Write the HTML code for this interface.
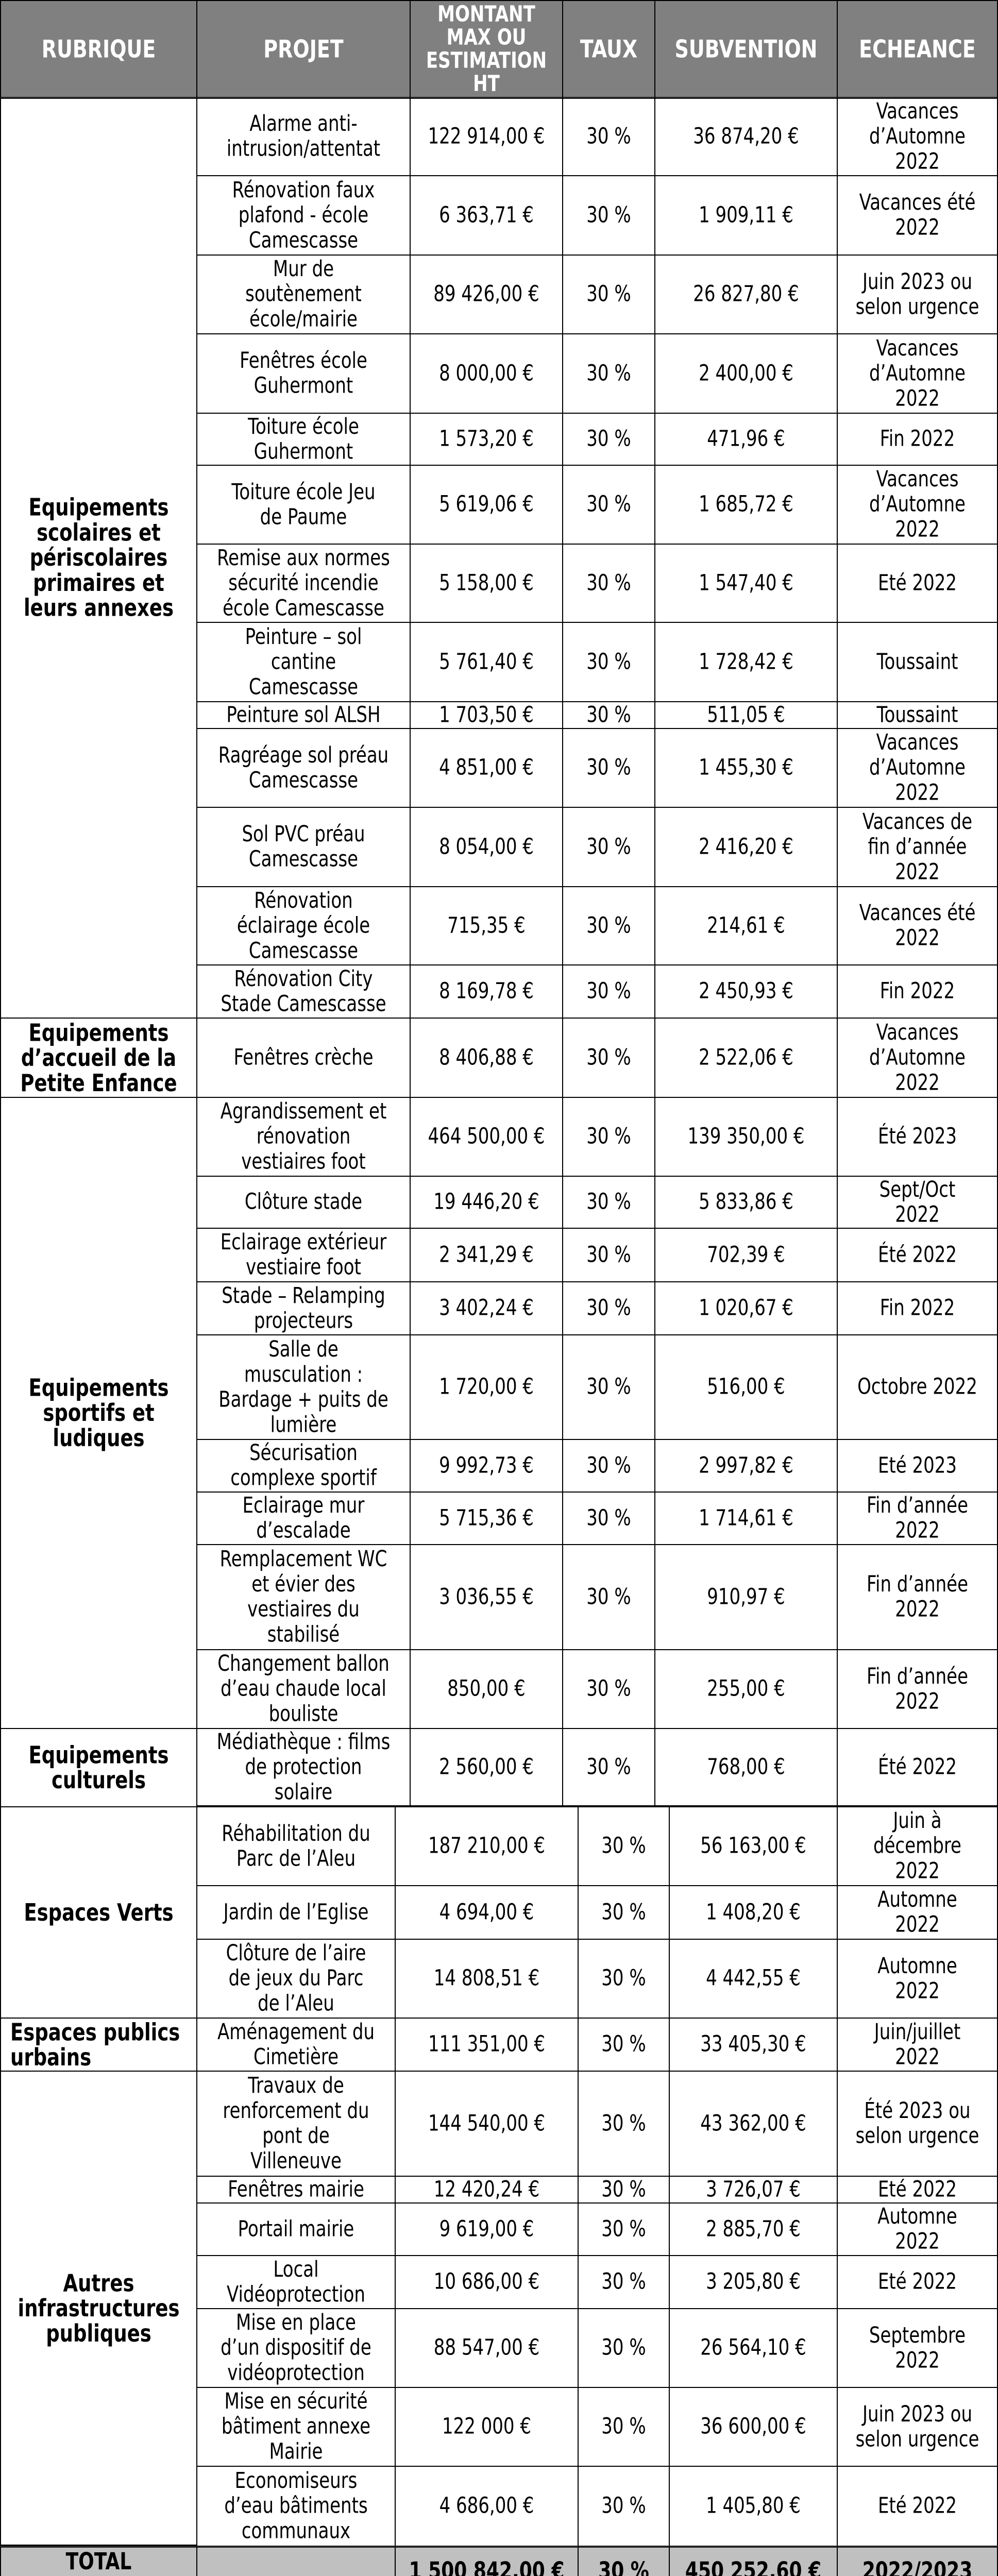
<!DOCTYPE html>
<html><head><meta charset="utf-8"><style>
body{margin:0;width:1937px;height:5040px;background:#fff;position:relative;overflow:hidden}
.c{position:absolute;box-sizing:border-box;border-right:2px solid #000;border-bottom:2px solid #000;display:flex;align-items:center;justify-content:center;text-align:center;white-space:nowrap;color:#000;overflow:hidden}
.c>span{display:block;transform:scaleY(1.25);font-family:"DejaVu Sans","Liberation Sans",sans-serif;font-size:34px;line-height:39px}
.b>span{font-weight:bold;font-size:37px}
.h{background:#808080;border-bottom:4px solid #222}
.h>span{color:#fff;font-weight:bold;font-size:38px;line-height:36px}
.t{background:#c0c0c0;border-bottom:4px solid #222}
.t>span{font-weight:bold;font-size:36px}
.l{justify-content:flex-start;text-align:left;padding-left:18px}
.ll{border-left:2px solid #000}
</style></head><body>

<div class="c h ll" style="left:0;top:0;width:383px;height:192px;border-top:2px solid #000"><span>RUBRIQUE</span></div>
<div class="c h" style="left:383px;top:0;width:414px;height:192px;border-top:2px solid #000"><span>PROJET</span></div>
<div class="c h" style="left:797px;top:0;width:296px;height:192px;border-top:2px solid #000"><span style="font-size:34px">MONTANT<br>MAX OU<br>ESTIMATION<br>HT</span></div>
<div class="c h" style="left:1093px;top:0;width:179px;height:192px;border-top:2px solid #000"><span>TAUX</span></div>
<div class="c h" style="left:1272px;top:0;width:354px;height:192px;border-top:2px solid #000"><span>SUBVENTION</span></div>
<div class="c h" style="left:1626px;top:0;width:311px;height:192px;border-top:2px solid #000"><span>ECHEANCE</span></div>

<div class="c b ll" style="left:0;top:190px;width:383px;height:1787px"><span>Equipements<br>scolaires et<br>périscolaires<br>primaires et<br>leurs annexes</span></div>
<div class="c b ll" style="left:0;top:1977px;width:383px;height:154px"><span>Equipements<br>d’accueil de la<br>Petite Enfance</span></div>
<div class="c b ll" style="left:0;top:2131px;width:383px;height:1225px"><span>Equipements<br>sportifs et<br>ludiques</span></div>
<div class="c b ll" style="left:0;top:3356px;width:383px;height:152px"><span>Equipements<br>culturels</span></div>
<div class="c b ll" style="left:0;top:3508px;width:383px;height:410px"><span>Espaces Verts</span></div>
<div class="c b ll l" style="left:0;top:3918px;width:383px;height:103px"><span>Espaces publics<br>urbains</span></div>
<div class="c b ll" style="left:0;top:4021px;width:383px;height:920px"><span>Autres<br>infrastructures<br>publiques</span></div>

<div class="c" style="left:383px;top:190px;width:414px;height:152px"><span>Alarme anti-<br>intrusion/attentat</span></div><div class="c" style="left:797px;top:190px;width:296px;height:152px"><span>122 914,00 €</span></div><div class="c" style="left:1093px;top:190px;width:179px;height:152px"><span>30 %</span></div><div class="c" style="left:1272px;top:190px;width:354px;height:152px"><span>36 874,20 €</span></div><div class="c" style="left:1626px;top:190px;width:311px;height:152px"><span>Vacances<br>d’Automne<br>2022</span></div>
<div class="c" style="left:383px;top:342px;width:414px;height:154px"><span>Rénovation faux<br>plafond - école<br>Camescasse</span></div><div class="c" style="left:797px;top:342px;width:296px;height:154px"><span>6 363,71 €</span></div><div class="c" style="left:1093px;top:342px;width:179px;height:154px"><span>30 %</span></div><div class="c" style="left:1272px;top:342px;width:354px;height:154px"><span>1 909,11 €</span></div><div class="c" style="left:1626px;top:342px;width:311px;height:154px"><span>Vacances été<br>2022</span></div>
<div class="c" style="left:383px;top:496px;width:414px;height:153px"><span>Mur de<br>soutènement<br>école/mairie</span></div><div class="c" style="left:797px;top:496px;width:296px;height:153px"><span>89 426,00 €</span></div><div class="c" style="left:1093px;top:496px;width:179px;height:153px"><span>30 %</span></div><div class="c" style="left:1272px;top:496px;width:354px;height:153px"><span>26 827,80 €</span></div><div class="c" style="left:1626px;top:496px;width:311px;height:153px"><span>Juin 2023 ou<br>selon urgence</span></div>
<div class="c" style="left:383px;top:649px;width:414px;height:154px"><span>Fenêtres école<br>Guhermont</span></div><div class="c" style="left:797px;top:649px;width:296px;height:154px"><span>8 000,00 €</span></div><div class="c" style="left:1093px;top:649px;width:179px;height:154px"><span>30 %</span></div><div class="c" style="left:1272px;top:649px;width:354px;height:154px"><span>2 400,00 €</span></div><div class="c" style="left:1626px;top:649px;width:311px;height:154px"><span>Vacances<br>d’Automne<br>2022</span></div>
<div class="c" style="left:383px;top:803px;width:414px;height:101px"><span>Toiture école<br>Guhermont</span></div><div class="c" style="left:797px;top:803px;width:296px;height:101px"><span>1 573,20 €</span></div><div class="c" style="left:1093px;top:803px;width:179px;height:101px"><span>30 %</span></div><div class="c" style="left:1272px;top:803px;width:354px;height:101px"><span>471,96 €</span></div><div class="c" style="left:1626px;top:803px;width:311px;height:101px"><span>Fin 2022</span></div>
<div class="c" style="left:383px;top:904px;width:414px;height:153px"><span>Toiture école Jeu<br>de Paume</span></div><div class="c" style="left:797px;top:904px;width:296px;height:153px"><span>5 619,06 €</span></div><div class="c" style="left:1093px;top:904px;width:179px;height:153px"><span>30 %</span></div><div class="c" style="left:1272px;top:904px;width:354px;height:153px"><span>1 685,72 €</span></div><div class="c" style="left:1626px;top:904px;width:311px;height:153px"><span>Vacances<br>d’Automne<br>2022</span></div>
<div class="c" style="left:383px;top:1057px;width:414px;height:152px"><span>Remise aux normes<br>sécurité incendie<br>école Camescasse</span></div><div class="c" style="left:797px;top:1057px;width:296px;height:152px"><span>5 158,00 €</span></div><div class="c" style="left:1093px;top:1057px;width:179px;height:152px"><span>30 %</span></div><div class="c" style="left:1272px;top:1057px;width:354px;height:152px"><span>1 547,40 €</span></div><div class="c" style="left:1626px;top:1057px;width:311px;height:152px"><span>Eté 2022</span></div>
<div class="c" style="left:383px;top:1209px;width:414px;height:154px"><span>Peinture – sol<br>cantine<br>Camescasse</span></div><div class="c" style="left:797px;top:1209px;width:296px;height:154px"><span>5 761,40 €</span></div><div class="c" style="left:1093px;top:1209px;width:179px;height:154px"><span>30 %</span></div><div class="c" style="left:1272px;top:1209px;width:354px;height:154px"><span>1 728,42 €</span></div><div class="c" style="left:1626px;top:1209px;width:311px;height:154px"><span>Toussaint</span></div>
<div class="c" style="left:383px;top:1363px;width:414px;height:52px"><span>Peinture sol ALSH</span></div><div class="c" style="left:797px;top:1363px;width:296px;height:52px"><span>1 703,50 €</span></div><div class="c" style="left:1093px;top:1363px;width:179px;height:52px"><span>30 %</span></div><div class="c" style="left:1272px;top:1363px;width:354px;height:52px"><span>511,05 €</span></div><div class="c" style="left:1626px;top:1363px;width:311px;height:52px"><span>Toussaint</span></div>
<div class="c" style="left:383px;top:1415px;width:414px;height:153px"><span>Ragréage sol préau<br>Camescasse</span></div><div class="c" style="left:797px;top:1415px;width:296px;height:153px"><span>4 851,00 €</span></div><div class="c" style="left:1093px;top:1415px;width:179px;height:153px"><span>30 %</span></div><div class="c" style="left:1272px;top:1415px;width:354px;height:153px"><span>1 455,30 €</span></div><div class="c" style="left:1626px;top:1415px;width:311px;height:153px"><span>Vacances<br>d’Automne<br>2022</span></div>
<div class="c" style="left:383px;top:1568px;width:414px;height:154px"><span>Sol PVC préau<br>Camescasse</span></div><div class="c" style="left:797px;top:1568px;width:296px;height:154px"><span>8 054,00 €</span></div><div class="c" style="left:1093px;top:1568px;width:179px;height:154px"><span>30 %</span></div><div class="c" style="left:1272px;top:1568px;width:354px;height:154px"><span>2 416,20 €</span></div><div class="c" style="left:1626px;top:1568px;width:311px;height:154px"><span>Vacances de<br>fin d’année<br>2022</span></div>
<div class="c" style="left:383px;top:1722px;width:414px;height:152px"><span>Rénovation<br>éclairage école<br>Camescasse</span></div><div class="c" style="left:797px;top:1722px;width:296px;height:152px"><span>715,35 €</span></div><div class="c" style="left:1093px;top:1722px;width:179px;height:152px"><span>30 %</span></div><div class="c" style="left:1272px;top:1722px;width:354px;height:152px"><span>214,61 €</span></div><div class="c" style="left:1626px;top:1722px;width:311px;height:152px"><span>Vacances été<br>2022</span></div>
<div class="c" style="left:383px;top:1874px;width:414px;height:103px"><span>Rénovation City<br>Stade Camescasse</span></div><div class="c" style="left:797px;top:1874px;width:296px;height:103px"><span>8 169,78 €</span></div><div class="c" style="left:1093px;top:1874px;width:179px;height:103px"><span>30 %</span></div><div class="c" style="left:1272px;top:1874px;width:354px;height:103px"><span>2 450,93 €</span></div><div class="c" style="left:1626px;top:1874px;width:311px;height:103px"><span>Fin 2022</span></div>
<div class="c" style="left:383px;top:1977px;width:414px;height:154px"><span>Fenêtres crèche</span></div><div class="c" style="left:797px;top:1977px;width:296px;height:154px"><span>8 406,88 €</span></div><div class="c" style="left:1093px;top:1977px;width:179px;height:154px"><span>30 %</span></div><div class="c" style="left:1272px;top:1977px;width:354px;height:154px"><span>2 522,06 €</span></div><div class="c" style="left:1626px;top:1977px;width:311px;height:154px"><span>Vacances<br>d’Automne<br>2022</span></div>
<div class="c" style="left:383px;top:2131px;width:414px;height:153px"><span>Agrandissement et<br>rénovation<br>vestiaires foot</span></div><div class="c" style="left:797px;top:2131px;width:296px;height:153px"><span>464 500,00 €</span></div><div class="c" style="left:1093px;top:2131px;width:179px;height:153px"><span>30 %</span></div><div class="c" style="left:1272px;top:2131px;width:354px;height:153px"><span>139 350,00 €</span></div><div class="c" style="left:1626px;top:2131px;width:311px;height:153px"><span>Été 2023</span></div>
<div class="c" style="left:383px;top:2284px;width:414px;height:101px"><span>Clôture stade</span></div><div class="c" style="left:797px;top:2284px;width:296px;height:101px"><span>19 446,20 €</span></div><div class="c" style="left:1093px;top:2284px;width:179px;height:101px"><span>30 %</span></div><div class="c" style="left:1272px;top:2284px;width:354px;height:101px"><span>5 833,86 €</span></div><div class="c" style="left:1626px;top:2284px;width:311px;height:101px"><span>Sept/Oct<br>2022</span></div>
<div class="c" style="left:383px;top:2385px;width:414px;height:104px"><span>Eclairage extérieur<br>vestiaire foot</span></div><div class="c" style="left:797px;top:2385px;width:296px;height:104px"><span>2 341,29 €</span></div><div class="c" style="left:1093px;top:2385px;width:179px;height:104px"><span>30 %</span></div><div class="c" style="left:1272px;top:2385px;width:354px;height:104px"><span>702,39 €</span></div><div class="c" style="left:1626px;top:2385px;width:311px;height:104px"><span>Été 2022</span></div>
<div class="c" style="left:383px;top:2489px;width:414px;height:103px"><span>Stade – Relamping<br>projecteurs</span></div><div class="c" style="left:797px;top:2489px;width:296px;height:103px"><span>3 402,24 €</span></div><div class="c" style="left:1093px;top:2489px;width:179px;height:103px"><span>30 %</span></div><div class="c" style="left:1272px;top:2489px;width:354px;height:103px"><span>1 020,67 €</span></div><div class="c" style="left:1626px;top:2489px;width:311px;height:103px"><span>Fin 2022</span></div>
<div class="c" style="left:383px;top:2592px;width:414px;height:203px"><span>Salle de<br>musculation :<br>Bardage + puits de<br>lumière</span></div><div class="c" style="left:797px;top:2592px;width:296px;height:203px"><span>1 720,00 €</span></div><div class="c" style="left:1093px;top:2592px;width:179px;height:203px"><span>30 %</span></div><div class="c" style="left:1272px;top:2592px;width:354px;height:203px"><span>516,00 €</span></div><div class="c" style="left:1626px;top:2592px;width:311px;height:203px"><span>Octobre 2022</span></div>
<div class="c" style="left:383px;top:2795px;width:414px;height:102px"><span>Sécurisation<br>complexe sportif</span></div><div class="c" style="left:797px;top:2795px;width:296px;height:102px"><span>9 992,73 €</span></div><div class="c" style="left:1093px;top:2795px;width:179px;height:102px"><span>30 %</span></div><div class="c" style="left:1272px;top:2795px;width:354px;height:102px"><span>2 997,82 €</span></div><div class="c" style="left:1626px;top:2795px;width:311px;height:102px"><span>Eté 2023</span></div>
<div class="c" style="left:383px;top:2897px;width:414px;height:102px"><span>Eclairage mur<br>d’escalade</span></div><div class="c" style="left:797px;top:2897px;width:296px;height:102px"><span>5 715,36 €</span></div><div class="c" style="left:1093px;top:2897px;width:179px;height:102px"><span>30 %</span></div><div class="c" style="left:1272px;top:2897px;width:354px;height:102px"><span>1 714,61 €</span></div><div class="c" style="left:1626px;top:2897px;width:311px;height:102px"><span>Fin d’année<br>2022</span></div>
<div class="c" style="left:383px;top:2999px;width:414px;height:204px"><span>Remplacement WC<br>et évier des<br>vestiaires du<br>stabilisé</span></div><div class="c" style="left:797px;top:2999px;width:296px;height:204px"><span>3 036,55 €</span></div><div class="c" style="left:1093px;top:2999px;width:179px;height:204px"><span>30 %</span></div><div class="c" style="left:1272px;top:2999px;width:354px;height:204px"><span>910,97 €</span></div><div class="c" style="left:1626px;top:2999px;width:311px;height:204px"><span>Fin d’année<br>2022</span></div>
<div class="c" style="left:383px;top:3203px;width:414px;height:153px"><span>Changement ballon<br>d’eau chaude local<br>bouliste</span></div><div class="c" style="left:797px;top:3203px;width:296px;height:153px"><span>850,00 €</span></div><div class="c" style="left:1093px;top:3203px;width:179px;height:153px"><span>30 %</span></div><div class="c" style="left:1272px;top:3203px;width:354px;height:153px"><span>255,00 €</span></div><div class="c" style="left:1626px;top:3203px;width:311px;height:153px"><span>Fin d’année<br>2022</span></div>
<div class="c" style="left:383px;top:3356px;width:414px;height:152px;border-bottom:4px solid #000"><span>Médiathèque : films<br>de protection<br>solaire</span></div><div class="c" style="left:797px;top:3356px;width:296px;height:152px;border-bottom:4px solid #000"><span>2 560,00 €</span></div><div class="c" style="left:1093px;top:3356px;width:179px;height:152px;border-bottom:4px solid #000"><span>30 %</span></div><div class="c" style="left:1272px;top:3356px;width:354px;height:152px;border-bottom:4px solid #000"><span>768,00 €</span></div><div class="c" style="left:1626px;top:3356px;width:311px;height:152px;border-bottom:4px solid #000"><span>Été 2022</span></div>

<div class="c" style="left:383px;top:3508px;width:385px;height:153px"><span>Réhabilitation du<br>Parc de l’Aleu</span></div><div class="c" style="left:768px;top:3508px;width:355px;height:153px"><span>187 210,00 €</span></div><div class="c" style="left:1123px;top:3508px;width:177px;height:153px"><span>30 %</span></div><div class="c" style="left:1300px;top:3508px;width:326px;height:153px"><span>56 163,00 €</span></div><div class="c" style="left:1626px;top:3508px;width:311px;height:153px"><span>Juin à<br>décembre<br>2022</span></div>
<div class="c" style="left:383px;top:3661px;width:385px;height:104px"><span>Jardin de l’Eglise</span></div><div class="c" style="left:768px;top:3661px;width:355px;height:104px"><span>4 694,00 €</span></div><div class="c" style="left:1123px;top:3661px;width:177px;height:104px"><span>30 %</span></div><div class="c" style="left:1300px;top:3661px;width:326px;height:104px"><span>1 408,20 €</span></div><div class="c" style="left:1626px;top:3661px;width:311px;height:104px"><span>Automne<br>2022</span></div>
<div class="c" style="left:383px;top:3765px;width:385px;height:153px"><span>Clôture de l’aire<br>de jeux du Parc<br>de l’Aleu</span></div><div class="c" style="left:768px;top:3765px;width:355px;height:153px"><span>14 808,51 €</span></div><div class="c" style="left:1123px;top:3765px;width:177px;height:153px"><span>30 %</span></div><div class="c" style="left:1300px;top:3765px;width:326px;height:153px"><span>4 442,55 €</span></div><div class="c" style="left:1626px;top:3765px;width:311px;height:153px"><span>Automne<br>2022</span></div>
<div class="c" style="left:383px;top:3918px;width:385px;height:103px"><span>Aménagement du<br>Cimetière</span></div><div class="c" style="left:768px;top:3918px;width:355px;height:103px"><span>111 351,00 €</span></div><div class="c" style="left:1123px;top:3918px;width:177px;height:103px"><span>30 %</span></div><div class="c" style="left:1300px;top:3918px;width:326px;height:103px"><span>33 405,30 €</span></div><div class="c" style="left:1626px;top:3918px;width:311px;height:103px"><span>Juin/juillet<br>2022</span></div>
<div class="c" style="left:383px;top:4021px;width:385px;height:204px"><span>Travaux de<br>renforcement du<br>pont de<br>Villeneuve</span></div><div class="c" style="left:768px;top:4021px;width:355px;height:204px"><span>144 540,00 €</span></div><div class="c" style="left:1123px;top:4021px;width:177px;height:204px"><span>30 %</span></div><div class="c" style="left:1300px;top:4021px;width:326px;height:204px"><span>43 362,00 €</span></div><div class="c" style="left:1626px;top:4021px;width:311px;height:204px"><span>Été 2023 ou<br>selon urgence</span></div>
<div class="c" style="left:383px;top:4225px;width:385px;height:52px"><span>Fenêtres mairie</span></div><div class="c" style="left:768px;top:4225px;width:355px;height:52px"><span>12 420,24 €</span></div><div class="c" style="left:1123px;top:4225px;width:177px;height:52px"><span>30 %</span></div><div class="c" style="left:1300px;top:4225px;width:326px;height:52px"><span>3 726,07 €</span></div><div class="c" style="left:1626px;top:4225px;width:311px;height:52px"><span>Eté 2022</span></div>
<div class="c" style="left:383px;top:4277px;width:385px;height:102px"><span>Portail mairie</span></div><div class="c" style="left:768px;top:4277px;width:355px;height:102px"><span>9 619,00 €</span></div><div class="c" style="left:1123px;top:4277px;width:177px;height:102px"><span>30 %</span></div><div class="c" style="left:1300px;top:4277px;width:326px;height:102px"><span>2 885,70 €</span></div><div class="c" style="left:1626px;top:4277px;width:311px;height:102px"><span>Automne<br>2022</span></div>
<div class="c" style="left:383px;top:4379px;width:385px;height:103px"><span>Local<br>Vidéoprotection</span></div><div class="c" style="left:768px;top:4379px;width:355px;height:103px"><span>10 686,00 €</span></div><div class="c" style="left:1123px;top:4379px;width:177px;height:103px"><span>30 %</span></div><div class="c" style="left:1300px;top:4379px;width:326px;height:103px"><span>3 205,80 €</span></div><div class="c" style="left:1626px;top:4379px;width:311px;height:103px"><span>Eté 2022</span></div>
<div class="c" style="left:383px;top:4482px;width:385px;height:153px"><span>Mise en place<br>d’un dispositif de<br>vidéoprotection</span></div><div class="c" style="left:768px;top:4482px;width:355px;height:153px"><span>88 547,00 €</span></div><div class="c" style="left:1123px;top:4482px;width:177px;height:153px"><span>30 %</span></div><div class="c" style="left:1300px;top:4482px;width:326px;height:153px"><span>26 564,10 €</span></div><div class="c" style="left:1626px;top:4482px;width:311px;height:153px"><span>Septembre<br>2022</span></div>
<div class="c" style="left:383px;top:4635px;width:385px;height:153px"><span>Mise en sécurité<br>bâtiment annexe<br>Mairie</span></div><div class="c" style="left:768px;top:4635px;width:355px;height:153px"><span>122 000 €</span></div><div class="c" style="left:1123px;top:4635px;width:177px;height:153px"><span>30 %</span></div><div class="c" style="left:1300px;top:4635px;width:326px;height:153px"><span>36 600,00 €</span></div><div class="c" style="left:1626px;top:4635px;width:311px;height:153px"><span>Juin 2023 ou<br>selon urgence</span></div>
<div class="c" style="left:383px;top:4788px;width:385px;height:155px"><span>Economiseurs<br>d’eau bâtiments<br>communaux</span></div><div class="c" style="left:768px;top:4788px;width:355px;height:155px"><span>4 686,00 €</span></div><div class="c" style="left:1123px;top:4788px;width:177px;height:155px"><span>30 %</span></div><div class="c" style="left:1300px;top:4788px;width:326px;height:155px"><span>1 405,80 €</span></div><div class="c" style="left:1626px;top:4788px;width:311px;height:155px"><span>Eté 2022</span></div>

<div class="c t ll" style="left:0;top:4941px;width:383px;height:98px;align-items:flex-start;padding-top:8px;border-top:4px solid #222"><span>TOTAL</span></div>
<div class="c t" style="left:383px;top:4941px;width:385px;height:98px;border-top:4px solid #222"><span></span></div>
<div class="c t" style="left:768px;top:4941px;width:355px;height:98px;border-top:4px solid #222"><span>1 500 842,00 €</span></div>
<div class="c t" style="left:1123px;top:4941px;width:177px;height:98px;border-top:4px solid #222"><span>30 %</span></div>
<div class="c t" style="left:1300px;top:4941px;width:326px;height:98px;border-top:4px solid #222"><span>450 252,60 €</span></div>
<div class="c t" style="left:1626px;top:4941px;width:311px;height:98px;border-top:4px solid #222"><span>2022/2023</span></div>
</body></html>
